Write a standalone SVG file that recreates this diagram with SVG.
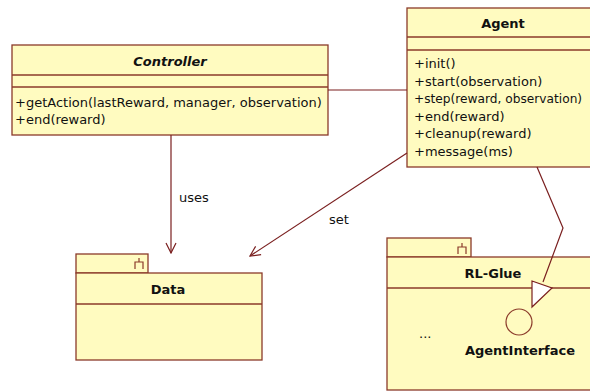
<svg xmlns="http://www.w3.org/2000/svg" width="590" height="392" viewBox="0 0 590 392">
<defs>
<style>
.box{fill:#fffbc0;stroke:#8b3a2a;stroke-width:1.3}
.ln{fill:none;stroke:#7a1f1f;stroke-width:1.2}
.t{font-family:"DejaVu Sans",Verdana,sans-serif;font-size:13px;fill:#111}
.b{font-weight:bold;text-anchor:middle}
.icon{fill:none;stroke:#8b3a2a;stroke-width:1.2}
</style>
<marker id="open" viewBox="0 0 12 12" refX="11" refY="6" markerWidth="12" markerHeight="12" markerUnits="userSpaceOnUse" orient="auto">
<path d="M1,1 L11,6 L1,11" fill="none" stroke="#7a1f1f" stroke-width="1.2"/>
</marker>
</defs>
<rect width="590" height="392" fill="#fff"/>
<g id="Controller">
<rect class="box" x="12" y="45" width="316" height="90"/>
<line class="box" x1="12" y1="75" x2="328" y2="75"/>
<line class="box" x1="12" y1="87" x2="328" y2="87"/>
<text class="t b" x="170" y="66" font-style="italic">Controller</text>
<text class="t" x="15" y="107">+getAction(lastReward, manager, observation)</text>
<text class="t" x="15" y="124">+end(reward)</text>
</g>
<g id="Agent">
<rect class="box" x="407" y="8" width="200" height="159"/>
<line class="box" x1="407" y1="37" x2="600" y2="37"/>
<line class="box" x1="407" y1="50" x2="600" y2="50"/>
<text class="t b" x="503" y="28">Agent</text>
<text class="t" x="414" y="68">+init()</text>
<text class="t" x="414" y="86">+start(observation)</text>
<text class="t" x="414" y="103" style="font-size:12.2px">+step(reward, observation)</text>
<text class="t" x="414" y="121">+end(reward)</text>
<text class="t" x="414" y="138">+cleanup(reward)</text>
<text class="t" x="414" y="156">+message(ms)</text>
</g>
<g id="Data">
<rect class="box" x="76" y="254" width="72" height="19"/>
<path class="icon" d="M139,258 V262 M135,269 V262 H143 V269"/>
<rect class="box" x="76" y="273" width="186" height="87"/>
<line class="box" x1="76" y1="304" x2="262" y2="304"/>
<text class="t b" x="168" y="294">Data</text>
</g>
<g id="RL-Glue">
<rect class="box" x="387" y="238" width="84" height="19"/>
<path class="icon" d="M462,243 V247 M458,254 V247 H466 V254"/>
<rect class="box" x="387" y="257" width="220" height="133"/>
<line class="box" x1="387" y1="288" x2="600" y2="288"/>
<text class="t b" x="493" y="278">RL-Glue</text>
<text class="t" x="419" y="338">...</text>
<circle cx="519" cy="322" r="13" fill="none" stroke="#8b3a2a" stroke-width="1.2"/>
<text class="t b" x="520" y="355">AgentInterface</text>
</g>
<g id="connectors">
<line class="ln" x1="328" y1="90" x2="407" y2="90"/>
<line class="ln" x1="171" y1="135" x2="171" y2="253" marker-end="url(#open)"/>
<text class="t" x="179" y="202">uses</text>
<line class="ln" x1="407" y1="153" x2="250" y2="256" marker-end="url(#open)"/>
<text class="t" x="329" y="224">set</text>
<polyline class="ln" points="537,167 563,228 543,282"/>
<polygon points="532,281 552,288 532,307" fill="#fff" stroke="#7a1f1f" stroke-width="1.2"/>
</g>
</svg>
